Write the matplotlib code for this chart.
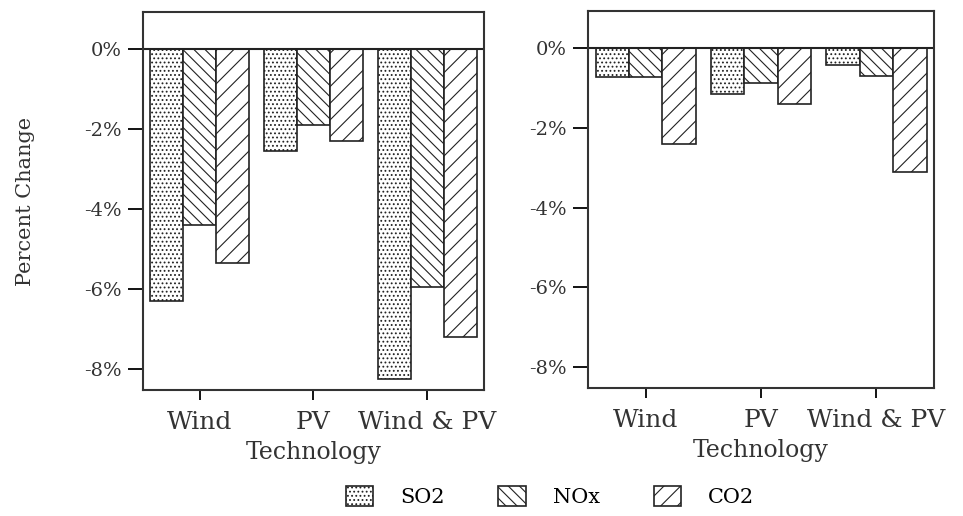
import numpy as np
import matplotlib.pyplot as plt
from matplotlib.patches import Patch

techs = ['Wind', 'PV', 'Wind & PV']
pollutants = ['SO2', 'NOx', 'CO2']
hatches = ['....', '\\\\\\', '//']

# left panel (percent change)
left_so2 = [-6.3, -2.55, -8.25]
left_nox = [-4.4, -1.9, -5.95]
left_co2 = [-5.35, -2.3, -7.2]

# right panel
right_so2 = [-0.72, -1.15, -0.42]
right_nox = [-0.74, -0.88, -0.7]
right_co2 = [-2.4, -1.4, -3.1]

plt.rcParams['font.family'] = 'DejaVu Serif'
plt.rcParams['hatch.linewidth'] = 0.8

fig = plt.figure(figsize=(9.63, 5.16), dpi=100)
ax1 = fig.add_axes([0.1485, 0.244, 0.354, 0.733])
ax2 = fig.add_axes([0.6106, 0.248, 0.3593, 0.731])

x = np.arange(len(techs))
w = 0.29

def draw(ax, series):
    for i, vals in enumerate(series):
        ax.bar(x + (i - 1) * w, vals, w, color='white', edgecolor='#222222',
               hatch=hatches[i], linewidth=1.2)
    ax.axhline(0, color='#222222', lw=1.5)
    ax.set_xlim(-0.5, 2.5)
    ax.set_ylim(-8.52, 0.93)
    ax.set_yticks([0, -2, -4, -6, -8])
    ax.set_yticklabels(['0%', '-2%', '-4%', '-6%', '-8%'], fontsize=14, color='#333333')
    ax.set_xticks(x)
    ax.set_xticklabels(techs, fontsize=18, color='#333333')
    ax.set_xlabel('Technology', fontsize=17, color='#333333', labelpad=5)
    ax.tick_params(axis='y', length=11, width=1.3, pad=4)
    ax.tick_params(axis='x', length=7, width=1.3, pad=8)
    for s in ax.spines.values():
        s.set_linewidth(1.5)
        s.set_color('#333333')

draw(ax1, [left_so2, left_nox, left_co2])
draw(ax2, [right_so2, right_nox, right_co2])
ax1.set_ylabel('Percent Change', fontsize=15, color='#333333', labelpad=36)

handles = [Patch(facecolor='white', edgecolor='#222222', hatch=h, linewidth=1.2)
           for h in hatches]
fig.legend(handles, pollutants, loc='center', bbox_to_anchor=(0.571, 0.037),
           ncol=3, frameon=False, fontsize=15, handlelength=1.3, handleheight=1.1,
           columnspacing=2.6, handletextpad=1.3)

fig.savefig('out.png', dpi=100)
